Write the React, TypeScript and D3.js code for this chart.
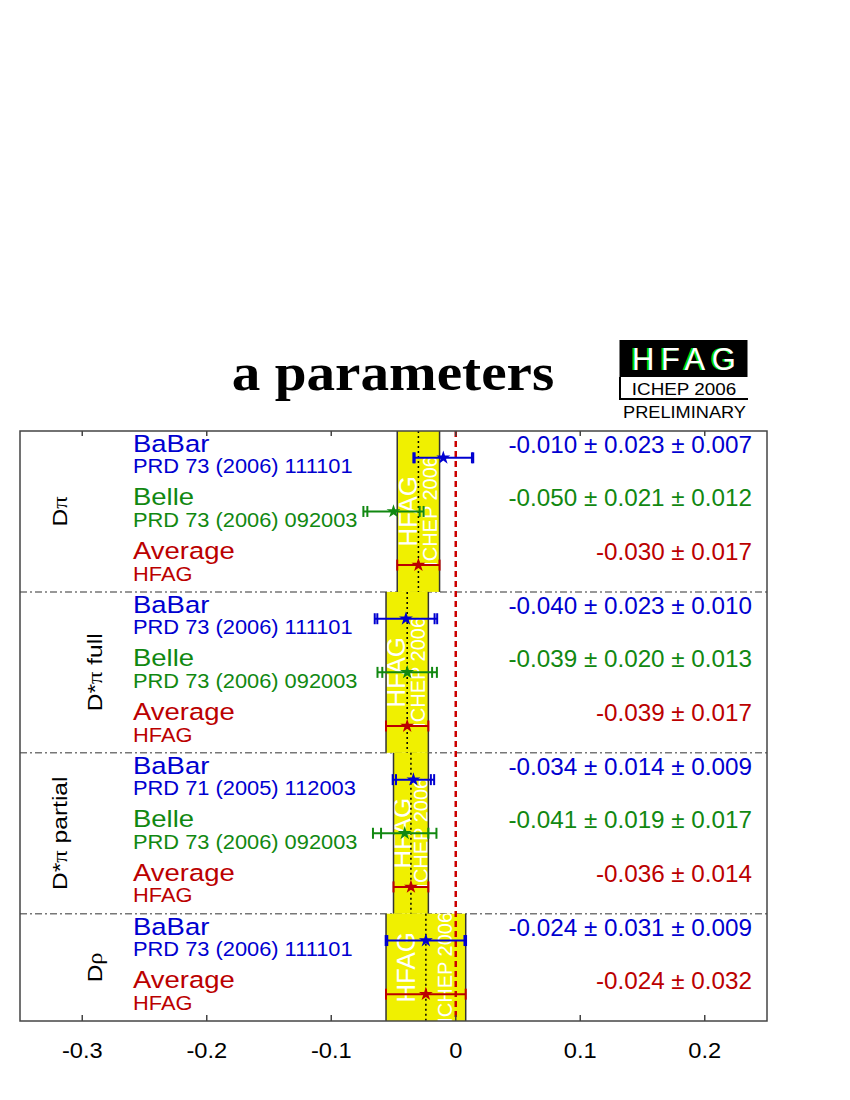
import React from "react";
import * as d3 from "d3";

const W = 850, H = 1100;
const SANS = "'Liberation Sans', Arial, Helvetica, sans-serif";
const SERIF = "'Liberation Serif', 'Times New Roman', serif";

// sections (mode labels)
const sectionPrefix = ["D", "D*", "D*", "D"];
const sectionGreek = ["π", "π", "π", "ρ"];
const sectionSuffix = ["", " full", " partial", ""];

// one entry per row, top to bottom
const rowSection = [0, 0, 0, 1, 1, 1, 2, 2, 2, 3, 3];
const rowExperiment = ["BaBar", "Belle", "Average", "BaBar", "Belle", "Average", "BaBar", "Belle", "Average", "BaBar", "Average"];
const rowReference = [
  "PRD 73 (2006) 111101", "PRD 73 (2006) 092003", "HFAG",
  "PRD 73 (2006) 111101", "PRD 73 (2006) 092003", "HFAG",
  "PRD 71 (2005) 112003", "PRD 73 (2006) 092003", "HFAG",
  "PRD 73 (2006) 111101", "HFAG",
];
const rowValue = [-0.010, -0.050, -0.030, -0.040, -0.039, -0.039, -0.034, -0.041, -0.036, -0.024, -0.024];
const rowStat = [0.023, 0.021, 0.017, 0.023, 0.020, 0.017, 0.014, 0.019, 0.014, 0.031, 0.032];
const rowSyst = [0.007, 0.012, null, 0.010, 0.013, null, 0.009, 0.017, null, 0.009, null];

const tickValues = [-0.3, -0.2, -0.1, 0, 0.1, 0.2];
const tickLabels = ["-0.3", "-0.2", "-0.1", "0", "0.1", "0.2"];

const colors: Record<string, string> = { BaBar: "#0000d0", Belle: "#118811", Average: "#bb0000" };

function Txt({ x, y, size, sx = 1, rot = 0, anchor = "start", fill = "#000", family = SANS, weight = "normal", children }: any) {
  return (
    <text transform={`translate(${x},${y}) rotate(${rot}) scale(${sx},1)`} fontSize={size} fontFamily={family}
      fontWeight={weight} fill={fill} textAnchor={anchor}>{children}</text>
  );
}

export default function App() {
  const left = 20, right = 767, top = 431, bottom = 1021;
  const x = d3.scaleLinear().domain([-0.35, 0.25]).range([left, right]);
  const y = d3.scaleLinear().domain([0, rowSection.length]).range([top, bottom]);
  const rc = (i: number) => y(i + 0.5);

  const star = d3.symbol(d3.symbolStar, 60)() as string;

  const sections = sectionPrefix.map((_, s) => {
    const rows = rowSection.map((r, i) => (r === s ? i : -1)).filter((i) => i >= 0);
    const first = rows[0], last = rows[rows.length - 1];
    const avg = rows.find((i) => rowExperiment[i] === "Average")!;
    return { s, y0: y(first), y1: y(last + 1), v: rowValue[avg], e: rowStat[avg] };
  });

  return (
    <svg width={W} height={H} style={{ position: "absolute", left: 0, top: 0, display: "block", background: "#fff" }}>
      <defs>
        {sections.map((b) => (
          <clipPath id={`band${b.s}`} key={b.s}>
            <rect x={x(b.v - b.e)} y={b.y0} width={x(b.v + b.e) - x(b.v - b.e)} height={b.y1 - b.y0} />
          </clipPath>
        ))}
      </defs>

      {/* title */}
      <Txt x={393} y={390} size={52} sx={1.1} anchor="middle" family={SERIF} weight="bold">a parameters</Txt>

      {/* HFAG logo */}
      <rect x={619.5} y={340} width={128} height={37} fill="#000" />
      <Txt x={630} y={370} size={31} anchor="start" fill="#00dd00"><tspan letterSpacing={6.5}>HFAG</tspan></Txt>
      <Txt x={632} y={370} size={31} anchor="start" fill="#fff"><tspan letterSpacing={6.5}>HFAG</tspan></Txt>
      <line x1={620} x2={620} y1={377} y2={399} stroke="#000" strokeWidth={2} />
      <line x1={619} x2={748} y1={399} y2={399} stroke="#000" strokeWidth={2} />
      <Txt x={684} y={395} size={17} sx={1.11} anchor="middle">ICHEP 2006</Txt>
      <Txt x={684.5} y={418} size={17} sx={1.07} anchor="middle">PRELIMINARY</Txt>

      {/* section separators */}
      {sections.slice(1).map((b) => (
        <line key={b.s} x1={left} x2={right} y1={b.y0} y2={b.y0} stroke="#777" strokeWidth={1.5} strokeDasharray="7,3,2,3" />
      ))}

      {/* average bands */}
      {sections.map((b) => {
        const x0 = x(b.v - b.e), x1 = x(b.v + b.e), w = x1 - x0, cy = (b.y0 + b.y1) / 2;
        return (
          <g key={b.s}>
            <rect x={x0} y={b.y0} width={w} height={b.y1 - b.y0} fill="#f0f000" />
            <g clipPath={`url(#band${b.s})`}>
              <Txt x={x0 + 8.7 + 0.253 * w} y={cy} size={26} rot={-90} anchor="middle" fill="#fff">HFAG</Txt>
              <Txt x={x0 + 9.5 + 0.707 * w} y={cy} size={20} rot={-90} anchor="middle" fill="#fff">ICHEP 2006</Txt>
            </g>
            <line x1={x0} x2={x0} y1={b.y0} y2={b.y1} stroke="#333" strokeWidth={1.5} />
            <line x1={x1} x2={x1} y1={b.y0} y2={b.y1} stroke="#333" strokeWidth={1.5} />
            <line x1={x(b.v)} x2={x(b.v)} y1={b.y0} y2={b.y1} stroke="#000" strokeWidth={1.5} strokeDasharray="2,3" />
          </g>
        );
      })}

      {/* zero line */}
      <line x1={x(0)} x2={x(0)} y1={top} y2={bottom} stroke="#cc0000" strokeWidth={2.5} strokeDasharray="6,4" />

      {/* measurements */}
      {rowValue.map((v, i) => {
        const c = colors[rowExperiment[i]];
        const st = rowStat[i], sy = rowSyst[i];
        const tot = sy == null ? st : Math.sqrt(st * st + sy * sy);
        const yy = rc(i);
        const caps = sy == null ? [v - tot, v + tot] : [v - tot, v + tot, v - st, v + st];
        return (
          <g key={i}>
            <line x1={x(v - tot)} x2={x(v + tot)} y1={yy} y2={yy} stroke={c} strokeWidth={2} />
            {caps.map((cv, k) => (
              <line key={k} x1={x(cv)} x2={x(cv)} y1={yy - 5.5} y2={yy + 5.5} stroke={c} strokeWidth={2} />
            ))}
            <path d={star} transform={`translate(${x(v)},${yy})`} fill={c} />
          </g>
        );
      })}

      {/* frame and ticks */}
      <rect x={left} y={top} width={right - left} height={bottom - top} fill="none" stroke="#444" strokeWidth={1.5} />
      {tickValues.map((t, k) => (
        <g key={k}>
          <line x1={x(t)} x2={x(t)} y1={top} y2={top + 5} stroke="#444" strokeWidth={1.5} />
          <line x1={x(t)} x2={x(t)} y1={bottom} y2={bottom - 6} stroke="#444" strokeWidth={1.5} />
          <Txt x={x(t)} y={1058} size={21.5} sx={1.1} anchor="middle">{tickLabels[k]}</Txt>
        </g>
      ))}

      {/* section labels */}
      {sections.map((b) => (
        <Txt key={b.s} x={b.s % 2 === 0 ? 67 : 102} y={(b.y0 + b.y1) / 2} size={20.5} sx={1.2} rot={-90} anchor="middle">
          {sectionPrefix[b.s]}<tspan fontFamily={SERIF}>{sectionGreek[b.s]}</tspan>{sectionSuffix[b.s]}
        </Txt>
      ))}

      {/* row texts */}
      {rowValue.map((v, i) => {
        const c = colors[rowExperiment[i]];
        const yy = rc(i);
        const sy = rowSyst[i];
        const txt = sy == null
          ? `${v.toFixed(3)} ± ${rowStat[i].toFixed(3)}`
          : `${v.toFixed(3)} ± ${rowStat[i].toFixed(3)} ± ${sy.toFixed(3)}`;
        return (
          <g key={i}>
            <Txt x={133} y={yy - 6} size={23.5} sx={1.17} fill={c}>{rowExperiment[i]}</Txt>
            <Txt x={133} y={yy + 15.5} size={19.5} sx={1.12} fill={c}>{rowReference[i]}</Txt>
            <Txt x={752} y={yy - 5} size={24} sx={1.01} anchor="end" fill={c}>{txt}</Txt>
          </g>
        );
      })}
    </svg>
  );
}
